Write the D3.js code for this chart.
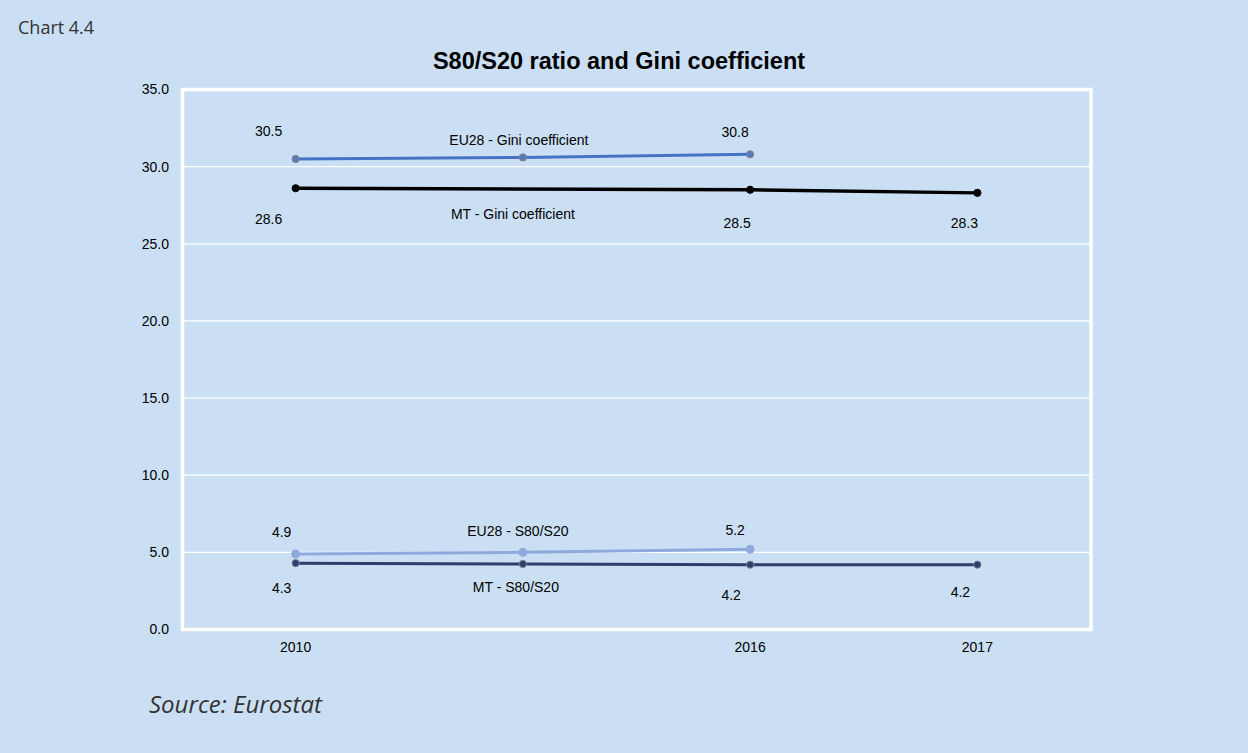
<!DOCTYPE html>
<html>
<head>
<meta charset="utf-8">
<script src="https://cdn.jsdelivr.net/npm/d3@7/dist/d3.min.js"></script>
<style>
  html, body { margin: 0; padding: 0; background: #cadff3; }
  svg { display: block; }
</style>
</head>
<body>
<svg id="chart" width="1248" height="753"></svg>
<script>
// Category axis: the second period carries no label
const categories = ["2010", "2013", "2016", "2017"];
const categoryLabels = ["2010", "", "2016", "2017"];
const yTicks = [0, 5, 10, 15, 20, 25, 30, 35];

// Series values (null = not available)
const euGini = [30.5, 30.6, 30.8, null];
const mtGini = [28.6, null, 28.5, 28.3];
const euS80 = [4.9, 5.0, 5.2, null];
const mtS80 = [4.3, 4.25, 4.2, 4.2];

const seriesNames = ["EU28 - Gini coefficient", "MT - Gini coefficient", "EU28 - S80/S20", "MT - S80/S20"];
const seriesValues = [euGini, mtGini, euS80, mtS80];

// Styling and label placement per series
const styles = [
  { line: "#4472c4", width: 3,   marker: "#5b7ab6", markerStroke: "#7b8497", r: 3.6 },
  { line: "#000000", width: 3.4, marker: "#000000", markerStroke: "#000000", r: 3.6 },
  { line: "#8eaadc", width: 3,   marker: "#8eaadc", markerStroke: "#8eaadc", r: 4 },
  { line: "#2e3d6b", width: 3,   marker: "#2e3d6b", markerStroke: "#7b8497", r: 3.6 }
];
// value label offsets (dx, dy from the point), indexed by category
const valueOffsets = [
  [[-27, -28], null, [-15, -22], null],
  [[-27, 31], null, [-13, 33], [-13, 30]],
  [[-14, -22], null, [-15, -19], null],
  [[-14, 25], null, [-19, 30], [-17, 27]]
];
// series name label offsets from the middle point
const nameOffsets = [[-4, -17], [-10, 25], [-5, -21], [-7, 23]];

const svg = d3.select("#chart");
const W = 1248, H = 753;
const plot = { left: 182, right: 1091, top: 89.5, bottom: 629.5 };

svg.append("rect").attr("width", W).attr("height", H).attr("fill", "#cadff3");

const x = d3.scaleBand().domain(categories).range([plot.left, plot.right]);
const cx = c => x(c) + x.bandwidth() / 2;
const y = d3.scaleLinear().domain([0, 35]).range([plot.bottom, plot.top]);

// gridlines
svg.append("g")
  .selectAll("line")
  .data(yTicks.filter(t => t > 0 && t < 35))
  .join("line")
  .attr("x1", plot.left).attr("x2", plot.right)
  .attr("y1", d => y(d)).attr("y2", d => y(d))
  .attr("stroke", "#ffffff").attr("stroke-width", 1.2);

// plot frame
svg.append("rect")
  .attr("x", plot.left + 0.5).attr("y", y(35))
  .attr("width", plot.right - plot.left - 0.5)
  .attr("height", y(0) - y(35))
  .attr("fill", "none").attr("stroke", "#ffffff").attr("stroke-width", 3.5);

const font = "'Liberation Sans', Arial, sans-serif";

// y axis labels
const yAxis = d3.axisLeft(y).tickValues(yTicks).tickFormat(d3.format(".1f")).tickSize(0).tickPadding(0);
const gy = svg.append("g").attr("transform", `translate(169,0)`).call(yAxis);
gy.select(".domain").remove();
gy.selectAll("text").attr("font-family", font).attr("font-size", 14).attr("fill", "#000");

// x axis labels
const xAxis = d3.axisBottom(x).tickFormat((d, i) => categoryLabels[i]).tickSize(0).tickPadding(0);
const gx = svg.append("g").attr("transform", `translate(0,642)`).call(xAxis);
gx.select(".domain").remove();
gx.selectAll("text").attr("font-family", font).attr("font-size", 14).attr("fill", "#000");

// lines, markers and labels
seriesValues.forEach((vals, s) => {
  const st = styles[s];
  const pts = categories.map((c, i) => ({ c, i, v: vals[i] })).filter(p => p.v !== null);
  const line = d3.line().x(p => cx(p.c)).y(p => y(p.v));
  const g = svg.append("g");
  g.append("path").datum(pts).attr("d", line)
    .attr("fill", "none").attr("stroke", st.line).attr("stroke-width", st.width)
    .attr("stroke-linejoin", "round");
  g.selectAll("circle").data(pts).join("circle")
    .attr("cx", p => cx(p.c)).attr("cy", p => y(p.v)).attr("r", st.r)
    .attr("fill", st.marker).attr("stroke", st.markerStroke).attr("stroke-width", 1);

  // value labels
  g.selectAll("text.val").data(pts.filter(p => valueOffsets[s][p.i])).join("text")
    .attr("class", "val")
    .attr("x", p => cx(p.c) + valueOffsets[s][p.i][0])
    .attr("y", p => y(p.v) + valueOffsets[s][p.i][1])
    .attr("dy", "0.35em").attr("text-anchor", "middle")
    .attr("font-family", font).attr("font-size", 14).attr("fill", "#000")
    .text(p => d3.format(".1f")(p.v));

  // series name next to the middle point
  const mid = categories[1];
  const midVal = vals[1] !== null ? vals[1] : (vals[0] + vals[2]) / 2;
  g.append("text")
    .attr("x", cx(mid) + nameOffsets[s][0])
    .attr("y", y(midVal) + nameOffsets[s][1])
    .attr("dy", "0.35em").attr("text-anchor", "middle")
    .attr("font-family", font).attr("font-size", 14).attr("fill", "#000")
    .text(seriesNames[s]);
});

// title
svg.append("text").attr("x", 619).attr("y", 69).attr("text-anchor", "middle")
  .attr("font-family", font).attr("font-weight", "bold").attr("font-size", 23.5).attr("fill", "#000")
  .text("S80/S20 ratio and Gini coefficient");

// chart number and source
svg.append("text").attr("x", 18).attr("y", 34).attr("font-family", "'Open Sans', sans-serif")
  .attr("font-size", 18).attr("fill", "#333").text("Chart 4.4");
svg.append("text").attr("x", 149).attr("y", 713).attr("font-family", "'Open Sans', sans-serif")
  .attr("font-style", "italic").attr("font-size", 24).attr("fill", "#333").text("Source: Eurostat");
</script>
</body>
</html>
